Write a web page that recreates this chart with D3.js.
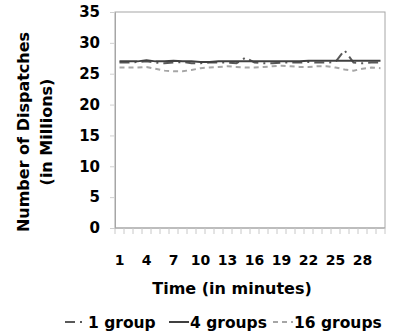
<!DOCTYPE html>
<html>
<head>
<meta charset="utf-8">
<script src="https://cdn.jsdelivr.net/npm/d3@7"></script>
<style>
  body { margin: 0; background: #fff; }
  svg text { font-family: "DejaVu Sans", sans-serif; font-weight: 700; fill: #000; }
</style>
</head>
<body>
<svg width="395" height="332"></svg>
<script>
// minutes 1..30
const minutes = d3.range(1, 31);
const yTicks = [0, 5, 10, 15, 20, 25, 30, 35];
const seriesNames = ["1 group", "4 groups", "16 groups"];

// dispatches in millions
const group1 = [26.8, 26.8, 26.9, 27.0, 26.8, 26.7, 26.8, 26.9, 26.7, 26.7, 26.8, 26.8, 26.8, 26.7, 27.6,
  26.8, 26.7, 26.7, 26.8, 26.8, 26.8, 26.9, 26.8, 26.8, 26.9, 28.8, 26.8, 26.7, 26.8, 26.8];
const group4 = [27.0, 27.0, 27.0, 27.2, 27.0, 27.0, 27.1, 27.0, 27.0, 26.9, 26.9, 27.0, 27.0, 27.0, 27.0,
  27.0, 27.0, 27.0, 27.0, 27.0, 27.0, 27.1, 27.1, 27.1, 27.1, 27.1, 27.1, 27.1, 27.1, 27.1];
const group16 = [26.0, 26.0, 26.0, 26.1, 25.8, 25.5, 25.4, 25.4, 25.6, 25.9, 26.0, 26.1, 26.2, 26.1, 26.0,
  26.0, 26.1, 26.2, 26.3, 26.2, 26.1, 26.1, 26.2, 26.2, 26.0, 25.7, 25.5, 25.8, 26.0, 25.9];

const styles = [
  { color: "#595959", dash: "10,5,2,5" },
  { color: "#404040", dash: null },
  { color: "#a6a6a6", dash: "5,4" }
];
const allSeries = [group1, group4, group16];

const margin = { top: 12, right: 10, bottom: 104, left: 115 };
const width = 270;
const height = 216;

const svg = d3.select("svg");
const g = svg.append("g").attr("transform", "translate(" + margin.left + "," + margin.top + ")");

const x = d3.scaleBand().domain(minutes).range([0, width]);
const y = d3.scaleLinear().domain([0, 35]).range([height, 0]);

// plot border
g.append("rect")
  .attr("x", 0).attr("y", 0)
  .attr("width", width).attr("height", height)
  .attr("fill", "none").attr("stroke", "#a6a6a6");

// y axis
const yAxis = g.append("g")
  .call(d3.axisLeft(y).tickValues(yTicks).tickSize(5).tickPadding(10));
yAxis.select(".domain").attr("stroke", "#a6a6a6");
yAxis.selectAll(".tick line").attr("stroke", "#d0d0d0");
yAxis.selectAll(".tick text").style("font-size", "15px");

// x axis: ticks at band boundaries
const xAxis = g.append("g").attr("transform", "translate(0," + height + ")");
xAxis.append("line").attr("x1", 0).attr("x2", width).attr("stroke", "#a6a6a6");
xAxis.selectAll(".xt")
  .data(minutes.concat([31]))
  .enter().append("line")
  .attr("x1", (d, i) => i * x.bandwidth()).attr("x2", (d, i) => i * x.bandwidth())
  .attr("y1", 0).attr("y2", 6)
  .attr("stroke", "#c8c8c8");
xAxis.selectAll(".xl")
  .data(minutes.filter((d) => (d - 1) % 3 === 0))
  .enter().append("text")
  .attr("x", (d) => x(d) + x.bandwidth() / 2)
  .attr("y", 37)
  .attr("text-anchor", "middle")
  .style("font-size", "14px")
  .text((d) => d);

// lines
const line = d3.line()
  .x((d, i) => x(minutes[i]) + x.bandwidth() / 2)
  .y((d) => y(d));

allSeries.forEach((s, k) => {
  g.append("path")
    .datum(s)
    .attr("fill", "none")
    .attr("stroke", styles[k].color)
    .attr("stroke-width", 2)
    .attr("stroke-dasharray", styles[k].dash)
    .attr("d", line);
});

// axis titles
svg.append("text")
  .attr("x", 232).attr("y", 294)
  .attr("text-anchor", "middle")
  .style("font-size", "16px")
  .text("Time (in minutes)");

svg.append("text")
  .attr("transform", "translate(29,132)rotate(-90)")
  .attr("text-anchor", "middle")
  .style("font-size", "16px")
  .text("Number of Dispatches");
svg.append("text")
  .attr("transform", "translate(52,132)rotate(-90)")
  .attr("text-anchor", "middle")
  .style("font-size", "16px")
  .text("(in Millions)");

// legend
const legendX = [65, 169, 273];
const legendW = [22, 20, 20];
const legend = svg.append("g");
seriesNames.forEach((name, k) => {
  const lg = legend.append("g").attr("transform", "translate(" + legendX[k] + ",322)");
  lg.append("line")
    .attr("x1", 0).attr("x2", legendW[k])
    .attr("stroke", styles[k].color)
    .attr("stroke-width", 2)
    .attr("stroke-dasharray", styles[k].dash);
  lg.append("text")
    .attr("x", legendW[k] + 1).attr("y", 5.5)
    .style("font-size", "15.5px")
    .text(name);
});
</script>
</body>
</html>
